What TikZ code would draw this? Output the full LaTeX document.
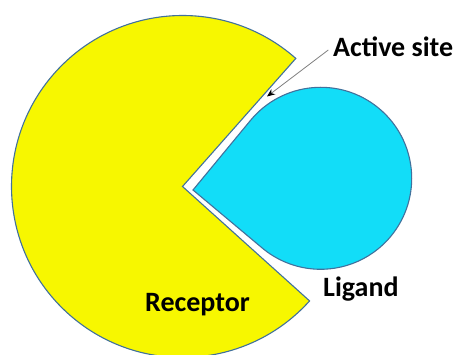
\documentclass[tikz,border=0pt]{standalone}
\usepackage{fontspec}
\setmainfont{Carlito}
\usetikzlibrary{arrows.meta}
\definecolor{recyellow}{HTML}{F7F700}
\definecolor{ligcyan}{HTML}{12DDF8}
\definecolor{edgeblue}{HTML}{41719C}
\tikzset{
  shape outline/.style={draw=edgeblue, line width=1.1pt, line join=miter},
  label text/.style={font=\bfseries\fontsize{28}{30}\selectfont, inner sep=0pt, anchor=base west},
  pointer/.style={draw=gray, line width=0.8pt, -{Stealth[length=8pt,width=6.5pt,color=black]}}
}
\begin{document}
\begin{tikzpicture}[x=1pt,y=1pt]
  \useasboundingbox (0,0) rectangle (458,355);
  % receptor: a disc with a wedge-shaped pocket cut out
  \coordinate (rc) at (182.5,168.5);
  \fill[white] (0,0) rectangle (458,355);
  \path[shape outline, fill=recyellow]
    (rc) -- ++(48.5:171) arc[start angle=48.5, end angle=318, radius=171] -- cycle;
  % ligand: teardrop fitting the pocket
  \coordinate (lt) at (193,165);
  \coordinate (lc) at (320.7,176.7);
  \path[shape outline, fill=ligcyan]
    (lt) -- ([shift={(lc)}]140.45:91) arc[start angle=140.45, end angle=-129.97, radius=91] -- cycle;
  % labels
  \node[label text] (site) at (333,298.3) {Active site};
  \node[label text] (lig) at (323,58.3) {Ligand};
  \node[label text] (rec) at (145,43.3) {Receptor};
  % pointer into the pocket
  \coordinate (pocket) at (267,258.5);
  \draw[pointer] ([xshift=-4.7pt,yshift=6.7pt]site.base west) -- (pocket);
\end{tikzpicture}
\end{document}
